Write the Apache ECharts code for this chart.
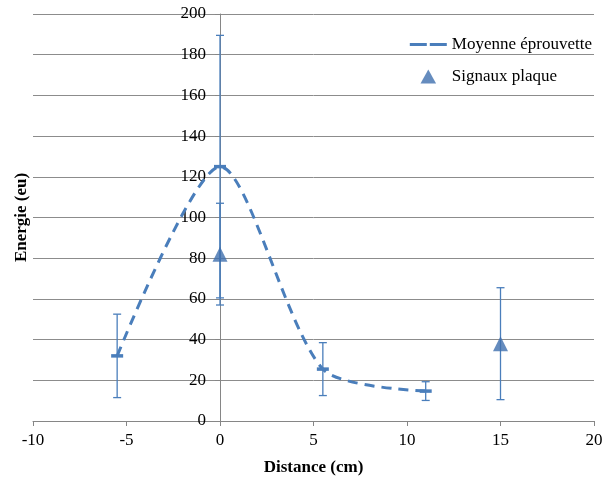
<!DOCTYPE html>
<html>
<head>
    <meta charset="utf-8">
    <title>ECharts</title>
    <script src="https://cdn.jsdelivr.net/npm/echarts@6/dist/echarts.min.js"></script>
</head>
<body style='background-color: #fff;margin:0px;'>
    <div id="main" style="width: 603px;height:480px;"></div>
    <script type="text/javascript">
        // Moyenne éprouvette (line) : x, y, +/- erreur
        var lineX = [-5.5, 0, 5.5, 11];
        var lineY = [32, 125, 25.5, 14.7];
        var lineErr = [20.5, 64.5, 13, 4.6];
        // Signaux plaque (triangles)
        var plaqueX = [0, 15];
        var plaqueY = [82, 38];
        var plaqueErr = [25, 27.5];

        var blue = '#4a7ebb';
        var font = 'Liberation Serif';

        function zip(xs, ys, es) {
            var out = [];
            for (var i = 0; i < xs.length; i++) {
                out.push(es ? [xs[i], ys[i], es[i]] : [xs[i], ys[i]]);
            }
            return out;
        }

        // error bars, with optional dash marker at the point
        function errorBars(withMark) {
            return function (params, api) {
                var x = api.value(0), y = api.value(1), e = api.value(2);
                var top = api.coord([x, y + e]);
                var bot = api.coord([x, y - e]);
                var mid = api.coord([x, y]);
                var st = { stroke: blue, lineWidth: 1.3 };
                var kids = [
                    { type: 'line', shape: { x1: top[0], y1: top[1], x2: bot[0], y2: bot[1] }, style: st },
                    { type: 'line', shape: { x1: top[0] - 4, y1: top[1], x2: top[0] + 4, y2: top[1] }, style: st },
                    { type: 'line', shape: { x1: bot[0] - 4, y1: bot[1], x2: bot[0] + 4, y2: bot[1] }, style: st }
                ];
                if (withMark) {
                    kids.push({ type: 'line', shape: { x1: mid[0] - 6, y1: mid[1], x2: mid[0] + 6, y2: mid[1] },
                        style: { stroke: blue, lineWidth: 3.5 } });
                }
                return { type: 'group', children: kids };
            };
        }

        var myChart = echarts.init(document.getElementById('main'));
        var option = {
            animation: false,
            textStyle: { fontFamily: font },
            grid: { left: 33, right: 9, top: 14, bottom: 59, outerBoundsMode: 'none', containLabel: false },
            legend: {
                right: 6, top: 31, orient: 'vertical',
                itemWidth: 37, itemHeight: 14, itemGap: 15,
                textStyle: { fontFamily: font, fontSize: 17, color: '#000' },
                data: [
                    { name: 'Moyenne éprouvette', icon: 'path://M0,0H17V3H0ZM20,0H37V3H20Z' },
                    { name: 'Signaux plaque', icon: 'path://M5,0L10,9L0,9Z' }
                ]
            },
            xAxis: {
                type: 'value', min: -10, max: 20, interval: 5,
                name: 'Distance (cm)', nameLocation: 'middle', nameGap: 38,
                nameTextStyle: { fontFamily: font, fontSize: 17, fontWeight: 'bold', color: '#000' },
                axisLine: { lineStyle: { color: '#868686' } },
                axisTick: { length: 5, lineStyle: { color: '#868686' } },
                axisLabel: { fontFamily: font, fontSize: 17, color: '#000', margin: 11, showMaxLabel: true },
                splitLine: { show: false }
            },
            yAxis: {
                type: 'value', min: 0, max: 200, interval: 20,
                offset: -187,
                name: 'Energie (eu)', nameLocation: 'middle', nameGap: 190,
                nameTextStyle: { fontFamily: font, fontSize: 17, fontWeight: 'bold', color: '#000' },
                axisLine: { show: true, onZero: false, lineStyle: { color: '#868686' } },
                axisTick: { show: true, length: 5, lineStyle: { color: '#868686' } },
                axisLabel: { fontFamily: font, fontSize: 17, color: '#000', margin: 14 },
                splitLine: { lineStyle: { color: '#8c8c8c' } }
            },
            series: [
                {
                    name: 'Moyenne éprouvette', type: 'line', smooth: 0.26,
                    showSymbol: false, symbol: 'none',
                    data: zip(lineX, lineY),
                    lineStyle: { color: blue, width: 3, type: [10, 7] },
                    itemStyle: { color: blue },
                    z: 3
                },
                {
                    name: 'Signaux plaque', type: 'scatter',
                    symbol: 'triangle', symbolSize: 15,
                    data: zip(plaqueX, plaqueY),
                    itemStyle: { color: '#3f6fae' },
                    z: 4
                },
                {
                    type: 'custom', renderItem: errorBars(true),
                    data: zip(lineX, lineY, lineErr), z: 2, silent: true
                },
                {
                    type: 'custom', renderItem: errorBars(false),
                    data: zip(plaqueX, plaqueY, plaqueErr), z: 2, silent: true
                }
            ]
        };
        myChart.setOption(option);
    </script>
</body>
</html>
